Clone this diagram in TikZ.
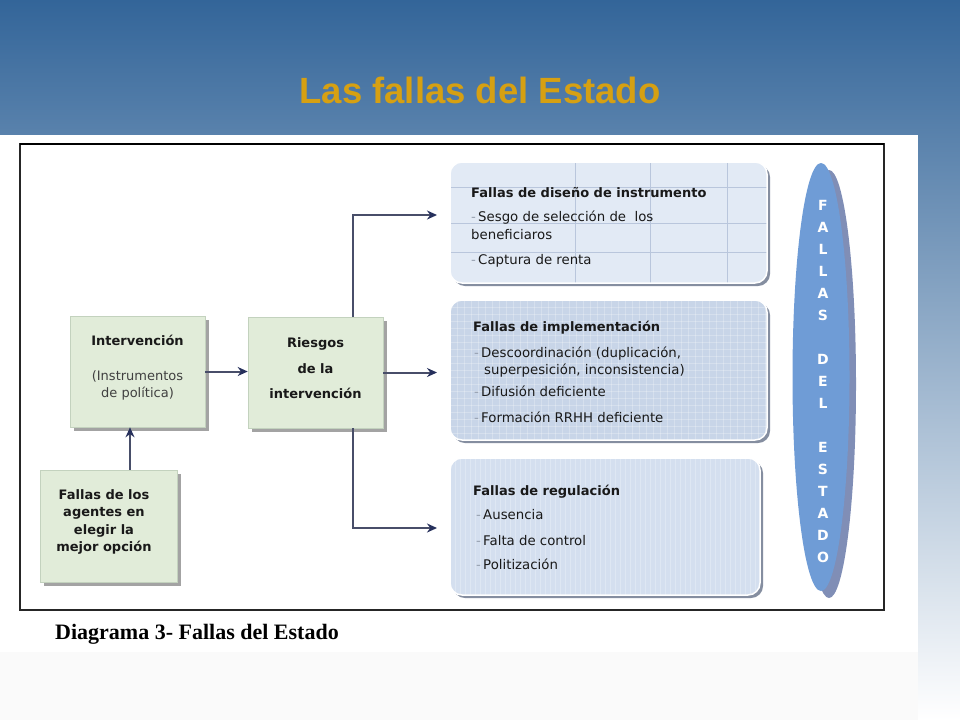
\documentclass[tikz,border=0pt]{standalone}
\usepackage{fontspec}
\setmainfont{DejaVu Sans}
\newfontfamily\titlefont{Liberation Sans}
\newfontfamily\capfont{Liberation Serif}
\usetikzlibrary{arrows.meta,shadows}
\definecolor{bgtop}{RGB}{51,101,153}
\definecolor{gold}{RGB}{214,160,18}
\definecolor{lgreen}{RGB}{225,236,217}
\definecolor{lgborder}{RGB}{195,210,190}
\definecolor{bfillA}{RGB}{226,234,245}
\definecolor{bfillB}{RGB}{200,213,232}
\definecolor{bfillC}{RGB}{212,223,239}
\definecolor{gridc}{RGB}{185,198,220}
\definecolor{conncol}{RGB}{72,78,105}
\definecolor{tipc}{RGB}{38,48,92}
\definecolor{ellc}{RGB}{111,156,214}
\definecolor{ellsh}{RGB}{128,142,182}
\definecolor{txt}{RGB}{25,25,25}
\definecolor{bulc}{RGB}{150,160,175}
\definecolor{rshadow}{RGB}{120,130,150}
\newcommand\mybul{\textcolor{bulc}{-}\,}
\begin{document}
\begin{tikzpicture}[x=1pt,y=-1pt,
  lbox/.style={draw=lgborder, fill=lgreen, line width=0.6pt, inner sep=0pt,
    drop shadow={shadow xshift=4pt, shadow yshift=-4pt, fill=black!45, opacity=0.8},
    align=center, text=txt},
  rbox/.style={draw=white, line width=1.5pt, rounded corners=12pt, inner sep=0pt,
    drop shadow={shadow xshift=3pt, shadow yshift=-3pt, fill=rshadow, opacity=0.9}},
  btitle/.style={anchor=base west, inner sep=0pt, text=txt, font=\fontsize{13}{15}\selectfont\bfseries},
  bitem/.style={anchor=base west, inner sep=0pt, text=txt, font=\fontsize{13.3}{15}\selectfont},
  arr/.style={draw=conncol, line width=2pt, -{Stealth[length=10pt,width=9pt,color=tipc]}}
]
\useasboundingbox (0,0) rectangle (960,720);
% background
\shade[top color=bgtop, bottom color=white] (0,0) rectangle (960,720);
\fill[white] (0,135) rectangle (918,652);
\fill[black!2] (0,652) rectangle (918,720);
% frame
\draw[black!85, line width=1.3pt] (20,144) rectangle (884,610);
\draw[black, line width=2.8pt] (20,144) -- (884,144);

% title
\node[font=\titlefont\bfseries\fontsize{36.5}{42}\selectfont, text=gold] (title) at (480,90) {Las fallas del Estado};

% left boxes
\node[lbox, minimum width=135, minimum height=111] (int) at (137.5,371.5) {};
\node[align=center, text=txt, font=\fontsize{13}{17}\selectfont] (intt) at (137.5,368)
  {\textbf{Intervención}\\[18pt]\textcolor{black!75}{(Instrumentos}\\\textcolor{black!75}{de política)}};
\node[lbox, minimum width=135, minimum height=111] (ries) at (315.5,372.5) {};
\node[align=center, text=txt, font=\fontsize{13}{25.5}\selectfont\bfseries] (riest) at (315.5,368.5)
  {Riesgos\\de la\\intervención};
\node[lbox, minimum width=137, minimum height=112] (ag) at (108.5,526) {};
\node[align=center, text=txt, font=\fontsize{13}{17.4}\selectfont\bfseries] (agt) at (104,522)
  {Fallas de los\\agentes en\\elegir la\\mejor opción};

% right boxes
\node[rbox, fill=bfillA, minimum width=317, minimum height=121,
  path picture={
    \foreach \i in {125,200,277}
      \draw[gridc, line width=0.8pt] ([xshift=\i pt]path picture bounding box.north west) -- ([xshift=\i pt]path picture bounding box.south west);
    \foreach \j in {25,61,90}
      \draw[gridc, line width=0.8pt] ([yshift=-\j pt]path picture bounding box.north west) -- ([yshift=-\j pt]path picture bounding box.north east);
  }] (b1) at (608.5,222.5) {};
\node[rbox, fill=bfillB, minimum width=317, minimum height=140,
  path picture={
    \foreach \i in {0,7,...,320}
      \draw[white, opacity=0.25, line width=0.6pt] ([xshift=\i pt]path picture bounding box.north west) -- ([xshift=\i pt]path picture bounding box.south west);
    \foreach \j in {0,7,...,140}
      \draw[white, opacity=0.25, line width=0.6pt] ([yshift=-\j pt]path picture bounding box.north west) -- ([yshift=-\j pt]path picture bounding box.north east);
  }] (b2) at (608.5,370) {};
\node[rbox, fill=bfillC, minimum width=310, minimum height=137,
  path picture={
    \foreach \i in {0,5,...,310}
      \draw[white, opacity=0.25, line width=0.5pt] ([xshift=\i pt]path picture bounding box.north west) -- ([xshift=\i pt]path picture bounding box.south west);
  }] (b3) at (605,526.5) {};

% box 1 text
\node[btitle] (b1t) at (471,197) {Fallas de diseño de instrumento};
\node[bitem] (b1a) at (471,221) {\mybul Sesgo de selección de\ \ los};
\node[bitem] (b1b) at (471,239) {beneficiaros};
\node[bitem] (b1c) at (471,264) {\mybul Captura de renta};
% box 2 text
\node[btitle] (b2t) at (473,331) {Fallas de implementación};
\node[bitem] (b2a) at (474,357) {\mybul Descoordinación (duplicación,};
\node[bitem] (b2b) at (484,374) {superpesición, inconsistencia)};
\node[bitem] (b2c) at (474,396) {\mybul Difusión deficiente};
\node[bitem] (b2d) at (474,422) {\mybul Formación RRHH deficiente};
% box 3 text
\node[btitle] (b3t) at (473,495) {Fallas de regulación};
\node[bitem] (b3a) at (476,519) {\mybul Ausencia};
\node[bitem] (b3b) at (476,545) {\mybul Falta de control};
\node[bitem] (b3c) at (476,569) {\mybul Politización};

% vertical ellipse
\fill[ellsh] (829,384) ellipse [x radius=27pt, y radius=214pt];
\fill[ellc] (821,377) ellipse [x radius=28.5pt, y radius=214pt];
\node[align=center, text=white, inner sep=0pt, font=\fontsize{14}{22}\selectfont\bfseries] (ellt) at (823,381.5)
  {F\\A\\L\\L\\A\\S\\[22pt]D\\E\\L\\[22pt]E\\S\\T\\A\\D\\O};

% connectors
\coordinate (upx) at (130,0);
\coordinate (brx) at (353,0);
\coordinate (t1) at (437,215);
\coordinate (t2) at (437,372);
\coordinate (t3) at (437,528);
\draw[arr] (int.east) -- (int.east -| ries.west);
\draw[arr] (ag.north -| upx) -- (int.south -| upx);
\draw[arr] (ries.north -| brx) |- (t1);
\draw[arr] (ries.east) -- (ries.east -| t2);
\draw[arr] (ries.south -| brx) |- (t3);

% caption
\node[anchor=base west, inner sep=0pt, font=\capfont\bfseries\fontsize{22}{26}\selectfont] (cap) at (55,639) {Diagrama 3- Fallas del Estado};
\end{tikzpicture}
\end{document}
